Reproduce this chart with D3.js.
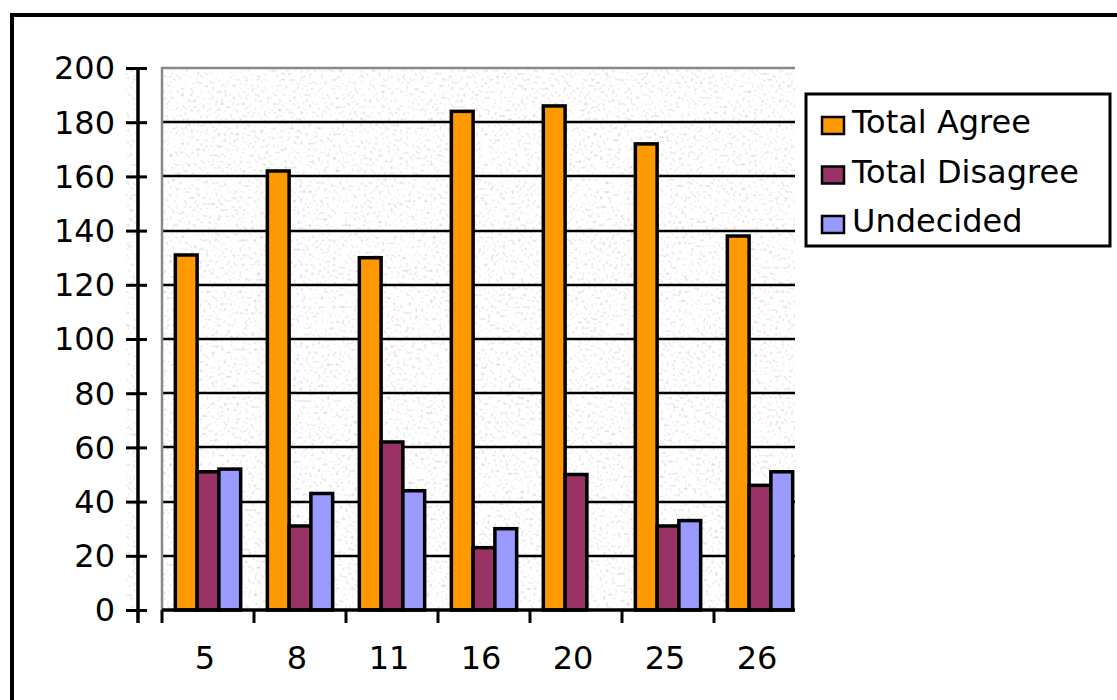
<!DOCTYPE html>
<html>
<head>
<meta charset="utf-8">
<script src="https://cdn.jsdelivr.net/npm/d3@7"></script>
<style>
  html, body { margin: 0; padding: 0; background: #fff; }
  svg { display: block; }
  text { font-family: "DejaVu Sans", sans-serif; font-size: 32px; fill: #000; }
</style>
</head>
<body>
<svg id="chart" width="1117" height="700"></svg>
<script>
// Survey responses per question number
const categories = ["5", "8", "11", "16", "20", "25", "26"];
const seriesNames = ["Total Agree", "Total Disagree", "Undecided"];
const totalAgree = [131, 162, 130, 184, 186, 172, 138];
const totalDisagree = [51, 31, 62, 23, 50, 31, 46];
const undecided = [52, 43, 44, 30, 0, 33, 51];
const yTicks = [0, 20, 40, 60, 80, 100, 120, 140, 160, 180, 200];
const seriesColors = ["#FF9900", "#993366", "#9999FF"];

const seriesValues = [totalAgree, totalDisagree, undecided];
const rows = categories.map((c, i) => ({
  cat: c,
  values: seriesNames.map((s, k) => ({ series: s, value: seriesValues[k][i] }))
}));

const svg = d3.select("#chart");

// Layout
const plotLeft = 162, plotRight = 795, plotTop = 68, plotBottom = 610;
const axisX = 138;

const y = d3.scaleLinear().domain([0, 200]).range([plotBottom, plotTop]);
const x = d3.scaleBand().domain(categories).range([plotLeft, 806])
  .paddingInner(0.29).paddingOuter(0.145);
const xs = d3.scaleBand().domain(seriesNames).range([0, x.bandwidth()]);
const color = d3.scaleOrdinal().domain(seriesNames).range(seriesColors);

// Speckled light grey fill for the plot area
const defs = svg.append("defs");
const f = defs.append("filter").attr("id", "speckle")
  .attr("x", 0).attr("y", 0).attr("width", 1).attr("height", 1)
  .attr("color-interpolation-filters", "sRGB");
f.append("feTurbulence").attr("type", "fractalNoise")
  .attr("baseFrequency", 0.33).attr("numOctaves", 1).attr("seed", 7);
f.append("feColorMatrix").attr("type", "matrix")
  .attr("values", "0.5 0 0 0 0.75  0.5 0 0 0 0.75  0.44 0 0 0 0.78  0 0 0 0 1");
f.append("feComponentTransfer").call(ct => {
  ["feFuncR", "feFuncG", "feFuncB"].forEach(fn =>
    ct.append(fn).attr("type", "linear").attr("slope", 1).attr("intercept", 0.02));
});

const clip = defs.append("clipPath").attr("id", "plotClip");
clip.append("rect").attr("x", plotLeft - 2).attr("y", plotTop - 2)
  .attr("width", plotRight - plotLeft + 2).attr("height", plotBottom - plotTop + 4);

// Outer frame
svg.append("rect").attr("x", 12).attr("y", 15).attr("width", 1200).attr("height", 800)
  .attr("fill", "none").attr("stroke", "#000").attr("stroke-width", 4);

// Textured plot background and a strip behind the value axis
svg.append("rect").attr("x", plotLeft).attr("y", plotTop)
  .attr("width", plotRight - plotLeft).attr("height", plotBottom - plotTop)
  .attr("filter", "url(#speckle)");
svg.append("rect").attr("x", 126).attr("y", plotTop)
  .attr("width", axisX - 126).attr("height", plotBottom - plotTop)
  .attr("filter", "url(#speckle)");
svg.append("line").attr("x1", 126).attr("x2", axisX).attr("y1", plotTop).attr("y2", plotTop)
  .attr("stroke", "#888").attr("stroke-width", 2);

// Gridlines
svg.append("g").selectAll("line")
  .data(yTicks.filter(t => t > 0 && t < 200))
  .join("line")
  .attr("x1", plotLeft).attr("x2", plotRight)
  .attr("y1", d => Math.round(y(d))).attr("y2", d => Math.round(y(d)))
  .attr("stroke", "#000").attr("stroke-width", 2.5);

// Plot border (top and left)
svg.append("path")
  .attr("d", `M${plotLeft},${plotBottom}V${plotTop}H${plotRight}`)
  .attr("fill", "none").attr("stroke", "#888").attr("stroke-width", 2.5);

// Bars
const groups = svg.append("g").attr("clip-path", "url(#plotClip)")
  .selectAll("g").data(rows).join("g")
  .attr("transform", d => `translate(${x(d.cat)},0)`);
groups.selectAll("rect").data(d => d.values).join("rect")
  .attr("x", d => xs(d.series))
  .attr("width", xs.bandwidth())
  .attr("y", d => y(d.value))
  .attr("height", d => y(0) - y(d.value))
  .attr("fill", d => color(d.series))
  .attr("stroke", "#000").attr("stroke-width", 3.5);

// Category axis
svg.append("line").attr("x1", plotLeft).attr("x2", plotRight)
  .attr("y1", plotBottom).attr("y2", plotBottom)
  .attr("stroke", "#000").attr("stroke-width", 3.5);
const halfGap = x.step() * x.paddingInner() / 2;
svg.append("g").selectAll("line").data(categories).join("line")
  .attr("x1", d => x(d) - halfGap).attr("x2", d => x(d) - halfGap)
  .attr("y1", plotBottom).attr("y2", plotBottom + 13)
  .attr("stroke", "#000").attr("stroke-width", 3);

const xAxis = svg.append("g")
  .attr("transform", `translate(-3,${plotBottom})`)
  .call(d3.axisBottom(x).tickSize(0).tickPadding(36));
xAxis.select(".domain").remove();
xAxis.selectAll("text").style("font-family", "DejaVu Sans, sans-serif").style("font-size", "32px");

// Value axis
svg.append("line").attr("x1", axisX).attr("x2", axisX)
  .attr("y1", plotTop).attr("y2", plotBottom + 13)
  .attr("stroke", "#000").attr("stroke-width", 3.5);
const yAxis = svg.append("g")
  .attr("transform", `translate(${axisX},0)`)
  .call(d3.axisLeft(y).tickValues(yTicks).tickSizeInner(12).tickSizeOuter(0).tickPadding(11));
yAxis.select(".domain").remove();
yAxis.selectAll(".tick line").attr("x1", 9).attr("stroke", "#000").attr("stroke-width", 3);
yAxis.selectAll("text").style("font-family", "DejaVu Sans, sans-serif").style("font-size", "32px")
  .attr("dy", "0.34em");

// Legend
const legend = svg.append("g");
legend.append("rect").attr("x", 806).attr("y", 94).attr("width", 304).attr("height", 152)
  .attr("fill", "#fff").attr("stroke", "#000").attr("stroke-width", 3);
const items = legend.selectAll("g.item").data(seriesNames).join("g").attr("class", "item")
  .attr("transform", (d, i) => `translate(0,${i * 49.5})`);
items.append("rect").attr("x", 822).attr("y", 117).attr("width", 22).attr("height", 17)
  .attr("fill", d => color(d)).attr("stroke", "#000").attr("stroke-width", 2.5);
items.append("text").attr("x", 852).attr("y", 133).text(d => d);
</script>
</body>
</html>
